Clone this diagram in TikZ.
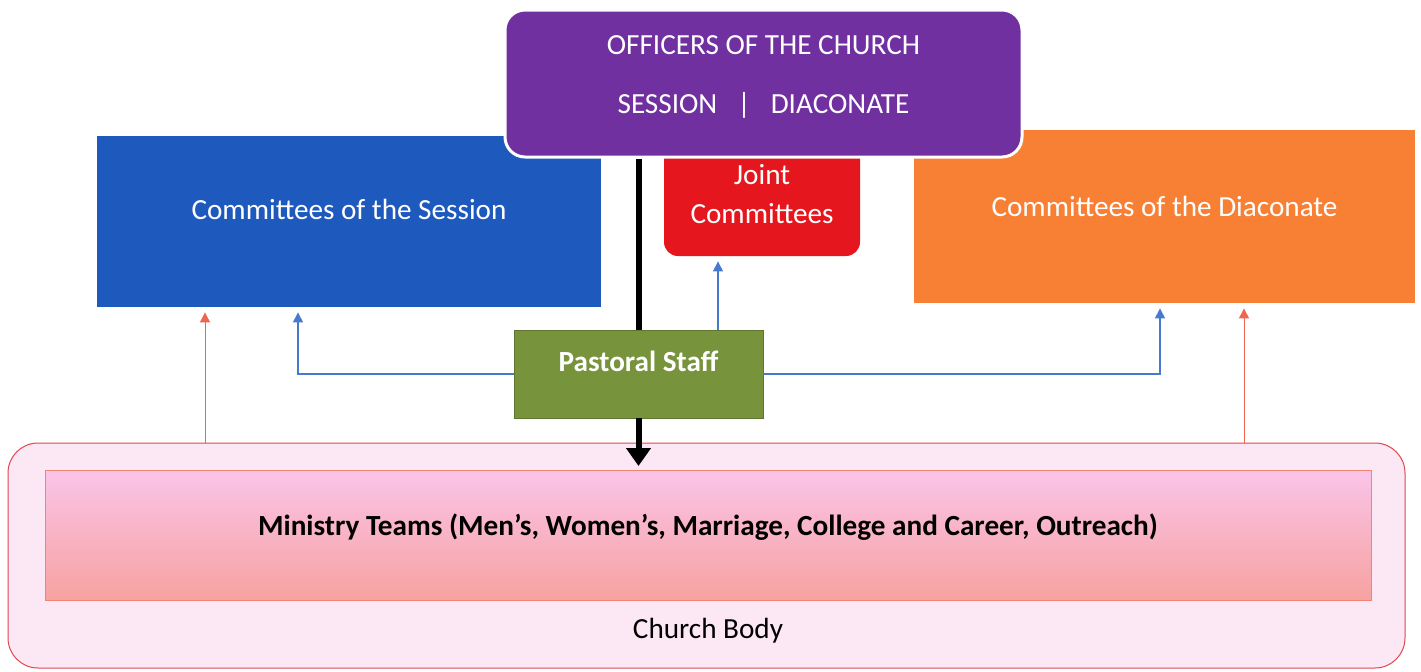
\documentclass[tikz,border=0pt]{standalone}
\usepackage{fontspec}
\setmainfont{Carlito}
\usepackage{tikz}
\usetikzlibrary{arrows,arrows.meta,positioning}
\definecolor{colpur}{RGB}{112,48,160}
\definecolor{colblu}{RGB}{30,90,190}
\definecolor{colred}{RGB}{230,22,30}
\definecolor{colora}{RGB}{247,128,52}
\definecolor{colgrn}{RGB}{119,147,60}
\definecolor{colbody}{RGB}{252,232,244}
\definecolor{colbodyl}{RGB}{222,70,80}
\definecolor{colmtt}{RGB}{250,196,232}
\definecolor{colmtb}{RGB}{247,162,160}
\definecolor{colarb}{RGB}{70,122,205}
\definecolor{colarr}{RGB}{240,100,80}
\newcommand{\txtsize}{\fontsize{14.6}{17.5}\selectfont}
\tikzstyle{officers}=[draw=white, line width=1.5pt, fill=colpur, rounded corners=10pt, text=white, align=center, minimum width=258.5pt, minimum height=73.5pt, text depth=9pt]
\tikzstyle{comm}=[fill=colblu, text=white, align=center, minimum width=252pt, minimum height=85.5pt, text height=10pt, text depth=12pt]
\tikzstyle{joint}=[fill=colred, rounded corners=7pt, text=white, align=center, minimum width=98pt, minimum height=62pt]
\tikzstyle{staff}=[fill=colgrn, draw=colgrn!80!black, line width=0.4pt, text=white, font=\txtsize\bfseries, minimum width=124.5pt, minimum height=44pt, text height=10pt, text depth=13pt]
\tikzstyle{body}=[draw=colbodyl, line width=0.5pt, fill=colbody, rounded corners=15pt, minimum width=698.5pt, minimum height=112.5pt]
\tikzstyle{team}=[draw=colarr!80!white, line width=0.4pt, top color=colmtt, bottom color=colmtb, font=\txtsize\bfseries, minimum width=663pt, minimum height=65pt, text height=10pt, text depth=10pt]
\tikzstyle{upb}=[->, >={Triangle[width=5pt,length=5pt]}, colarb, line width=0.6pt, shorten >=2.5pt]
\tikzstyle{upr}=[->, >={Triangle[width=5pt,length=5pt]}, colarr, line width=0.5pt, shorten >=2.5pt]

\begin{document}
\begin{tikzpicture}[x=0.5pt,y=-0.5pt,font=\txtsize]
		    \useasboundingbox (0,0) rectangle (1421,671);
		    \node [comm] (ses) at (349,221.5) {Committees of the Session};
		    \node [comm, fill=colora, minimum width=250.5pt, minimum height=86.5pt, text depth=10pt] (dia) at (1164.5,216.5) {Committees of the Diaconate};
		    \node [joint] (jc) at (762,194) {Joint\\[2pt]Committees};
		    \node [officers] (off) at (763.5,83.5) {OFFICERS OF THE CHURCH\\[12pt]SESSION\hspace{10pt}|\hspace{10pt}DIACONATE};
		    \node [staff] (ps) at (638.5,374) {Pastoral Staff};
		    \node [body] (cb) at (706.5,555.5) {};
		    \node [team] (mt) at (708,535) {Ministry Teams (Men’s, Women’s, Marriage, College and Career, Outreach)};
		    \node (cbt) at (708,631) {Church Body};
		    \coordinate (down) at (638.5,466);
		    \draw [line width=3pt] (ps.north |- off.south) -- (ps.north);
		    \draw [line width=3pt, -{Triangle[width=12pt,length=9pt]}] (ps.south) -- (down);
		    \draw [upb] (ps.west) -| ([xshift=-25.5pt]ses.south);
		    \draw [upb] (ps.east) -| ([xshift=-2.25pt]dia.south);
		    \draw [upb] ([xshift=39.75pt]ps.north) -- ([xshift=-22pt]jc.south);
		    \draw [upr] ([xshift=-250.75pt]cb.north) -- ([xshift=-72pt]ses.south);
		    \draw [upr] ([xshift=268.75pt]cb.north) -- ([xshift=39.75pt]dia.south);
\end{tikzpicture}
\end{document}
